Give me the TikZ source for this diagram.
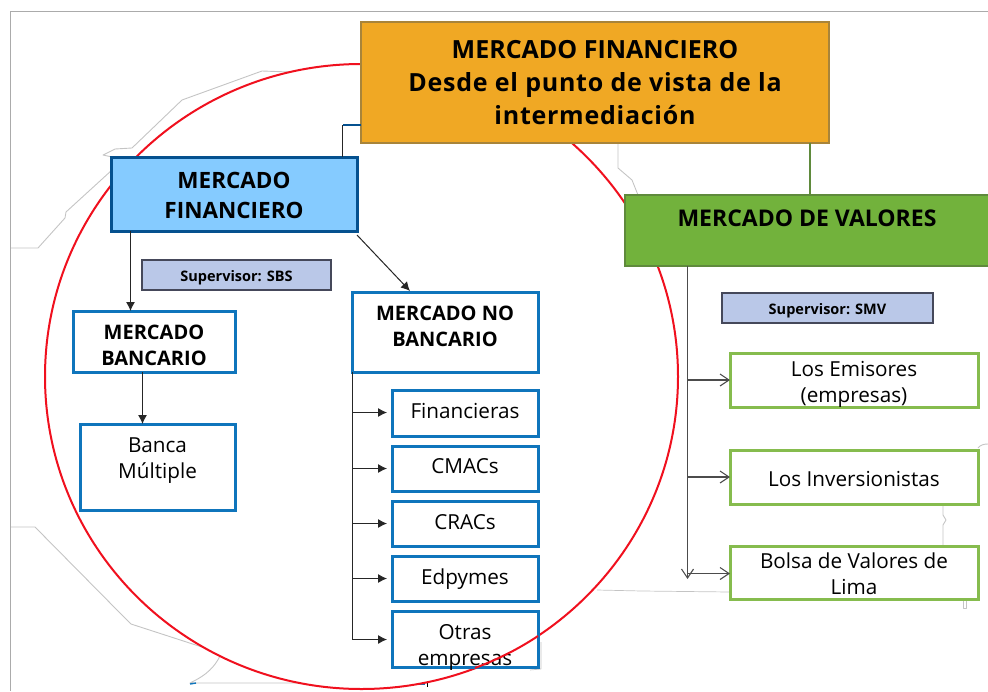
\documentclass[tikz,border=0pt]{standalone}
\usepackage{fontspec}
\setmainfont{Open Sans}
\usetikzlibrary{arrows.meta}
\definecolor{cframe}{HTML}{ABABAB}
\definecolor{cghost}{HTML}{C4C4C4}
\definecolor{corange}{HTML}{F0A824}
\definecolor{corangeb}{HTML}{A8843A}
\definecolor{cblue}{HTML}{85CBFF}
\definecolor{cblueb}{HTML}{05518F}
\definecolor{cgreen}{HTML}{72B23C}
\definecolor{cgreenb}{HTML}{5F8A3C}
\definecolor{csup}{HTML}{BAC8E8}
\definecolor{csupb}{HTML}{45485A}
\definecolor{cbox}{HTML}{0F75BC}
\definecolor{cleaf}{HTML}{86BC4E}
\definecolor{cred}{HTML}{F0101E}
\newcommand{\tx}[4][0pt]{\fontsize{#2}{#3}\selectfont\raisebox{\dimexpr#1-0.43em\relax}[0pt][0pt]{\begin{tabular}{@{}c@{}}#4\end{tabular}}}
\newcommand{\wide}{\addfontfeature{LetterSpace=3}}
\tikzset{
  x=1pt,y=-1pt,
  base/.style={anchor=north west,inner sep=0pt,outer sep=0pt,text=black,align=center},
  sized/.style 2 args={minimum width=#1,minimum height=#2},
  orangebox/.style={base,fill=corange,draw=corangeb,line width=2.4pt},
  bluebox/.style={base,fill=cblue,draw=cblueb,line width=3pt},
  greenbox/.style={base,fill=cgreen,draw=cgreenb,line width=2.4pt},
  supbox/.style={base,fill=csup,draw=csupb,line width=1.2pt},
  wbox/.style={base,fill=white,draw=cbox,line width=3pt},
  leafbox/.style={base,fill=white,draw=cleaf,line width=3pt},
  ghost/.style={draw=cghost,line width=0.9pt,line join=round},
  redline/.style={draw=cred,line width=2pt},
  arr/.style={draw=black!85,line width=1pt,-{Latex[length=9pt,width=9pt]}},
  open/.style={draw=black!70,line width=1.1pt,-{Straight Barb[length=9pt,width=12pt]}},
  link/.style={draw=black!85,line width=1pt}
}
\begin{document}
\begin{tikzpicture}
\useasboundingbox (0,0) rectangle (988,691);
% frame of the slide
\draw[cframe,line width=1.3pt] (988,11.5) -- (10.5,11.5) -- (10.5,691);
% ghost outline behind the circle
\draw[ghost] (11,248) -- (38,248) -- (65,218) -- (66,212) -- (112,170);
\draw[ghost] (112,157) -- (103,155) -- (115,149) -- (132,148) -- (182,100) -- (262,71) -- (290,72);
\draw[ghost] (11,527) -- (35,527) -- (120,613) -- (131,624) -- (205,648);
\draw[ghost] (220,656) .. controls (212,672) and (200,678) .. (190,683) -- (427,683);
\draw[cbox,line width=1.4pt] (190,684) -- (196,683);
\draw[cbox,line width=1.6pt] (393,684) -- (425,684);
\draw[black,line width=0.5pt] (427,683) -- (427,687);
\draw[ghost] (618,143) -- (618,168) -- (632,180) -- (638,195);
\draw[ghost,line width=0.7pt] (597,590) -- (642,591) -- (730,592);
\draw[ghost] (943,546) -- (943,525) -- (946,520) -- (943,515) -- (943,505);
\draw[ghost] (978,448) .. controls (980,445) and (984,444) .. (988,444);
\draw[ghost] (963,600) -- (963,608) -- (966,608) -- (966,600);
\draw[ghost,line width=0.7pt] (541,642) -- (541,669) -- (530,670);
% white disc with red rim
\draw[redline,fill=white] (361.5,376.5) ellipse [x radius=316.5,y radius=312.5];
% boxes
\node[orangebox,sized={468pt}{121pt}] (orange) at (361,22) {\tx[2.5pt]{25}{33}{\bfseries MERCADO FINANCIERO\\\bfseries\wide Desde el punto de vista de la\\\bfseries\wide intermediación}};
\node[bluebox,sized={246pt}{74pt}] (blue) at (111,157) {\tx[1pt]{22.5}{30}{\bfseries MERCADO\\\bfseries FINANCIERO}};
\node[greenbox,sized={364pt}{71pt}] (green) at (625,195) {\tx[13.5pt]{23}{30}{\bfseries MERCADO DE VALORES}};
\node[supbox,sized={189pt}{30pt}] (supsbs) at (142,260) {\tx{14.5}{18}{\bfseries Supervisor: SBS}};
\node[supbox,sized={211pt}{30pt}] (supsmv) at (722,293) {\tx{14.5}{18}{\bfseries Supervisor: SMV}};
\node[wbox,sized={162pt}{61pt}] (bancario) at (73,311) {\tx[-2.5pt]{20}{26}{\bfseries MERCADO\\\bfseries BANCARIO}};
\node[wbox,sized={155pt}{86pt}] (banca) at (80,424) {\tx[10pt]{20.7}{26}{Banca\\Múltiple}};
\node[wbox,sized={186pt}{80pt}] (nobanc) at (352,292) {\tx[7pt]{20}{26}{\bfseries MERCADO NO\\\bfseries BANCARIO}};
\node[wbox,sized={146pt}{46pt}] (financ) at (392,390) {\tx[3pt]{20.7}{26}{Financieras}};
\node[wbox,sized={146pt}{45pt}] (cmacs) at (392,446) {\tx[3.5pt]{20.7}{26}{CMACs}};
\node[wbox,sized={146pt}{45pt}] (cracs) at (392,501) {\tx[2.5pt]{20.7}{26}{CRACs}};
\node[wbox,sized={146pt}{45pt}] (edpy) at (392,556) {\tx[2.5pt]{20.7}{26}{Edpymes}};
\node[wbox,sized={146pt}{56pt}] (otras) at (392,611) {\tx[-5pt]{20.7}{26}{Otras\\empresas}};
% the stretch of the red rim that runs over the last box
\draw[redline] (538,636) .. controls (518.3,649.1) and (497.2,659.6) .. (475,668);
\node[leafbox,sized={248pt}{54pt}] (emis) at (730,353) {\tx[-1pt]{20.7}{26}{Los Emisores\\(empresas)}};
\node[leafbox,sized={248pt}{54pt}] (inver) at (730,450) {\tx[-1pt]{20.7}{26}{Los Inversionistas}};
\node[leafbox,sized={248pt}{53pt}] (bolsa) at (730,546) {\tx[-0.5pt]{20.7}{26}{Bolsa de Valores de\\Lima}};
% connectors
\coordinate (j1) at (342.5,125);
\coordinate (t1) at (352.5,639.5);
\coordinate (t2) at (687.5,573.5);
\coordinate (t3) at (687.5,579);
\draw[cblueb,line width=1.8pt] (orange.west |- j1) -- (j1);
\draw[link] (j1) -- (j1 |- blue.north);
\draw[cgreenb,line width=2.6pt] (810,143) -- (810,195);
\draw[arr] (blue.south -| 130.5,0) -- (bancario.north -| 130.5,0);
\draw[arr] ([yshift=-4pt]blue.south east) -- (410,291);
\draw[arr] (bancario.south -| 142.5,0) -- (banca.north -| 142.5,0);
\draw[link] (nobanc.south -| t1) -- (t1);
\draw[arr] ([yshift=0.5pt]t1 |- financ.west) -- ([shift={(-5pt,0.5pt)}]financ.west);
\draw[arr] (t1 |- cmacs.west) -- ([xshift=-5pt]cmacs.west);
\draw[arr] (t1 |- cracs.west) -- ([xshift=-5pt]cracs.west);
\draw[arr] (t1 |- edpy.west) -- ([xshift=-5pt]edpy.west);
\draw[arr] (t1) -- ([xshift=-5pt]otras.west |- t1);
\draw[open] (green.south -| t3) -- (t3);
\draw[open] (t3 |- emis.west) -- (emis.west);
\draw[open] (t3 |- inver.west) -- (inver.west);
\draw[open] (t2) -- (t2 -| bolsa.west);
\end{tikzpicture}
\end{document}
